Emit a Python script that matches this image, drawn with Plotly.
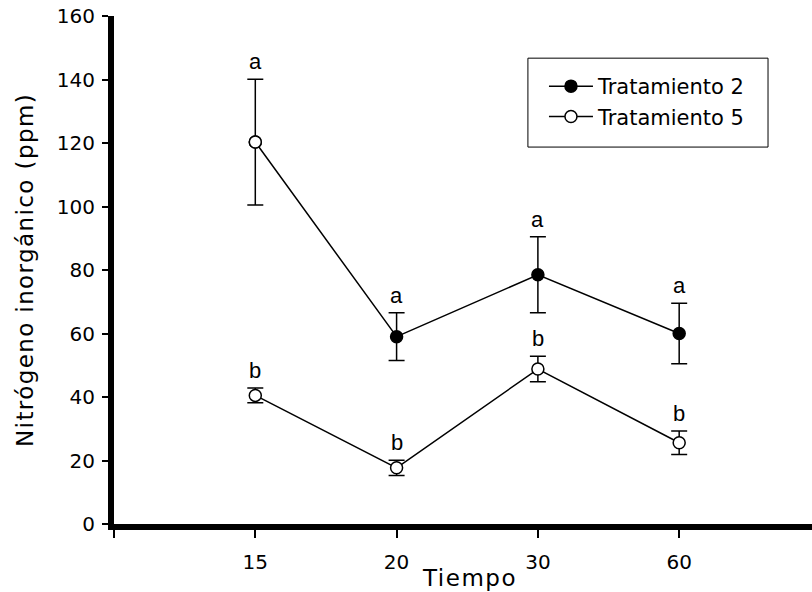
import plotly.graph_objects as go

# ---- data ----
tiempo = ["15", "20", "30", "60"]
trat2_media = [120.3, 59.0, 78.5, 60.0]
trat2_error = [19.8, 7.5, 12.0, 9.5]
trat5_media = [40.5, 17.7, 48.8, 25.6]
trat5_error = [2.3, 2.4, 4.0, 3.7]
letras_t2 = ["a", "a", "a", "a"]
letras_t5 = ["b", "b", "b", "b"]
y_ticks = [0, 20, 40, 60, 80, 100, 120, 140, 160]

xpos = list(range(1, len(tiempo) + 1))

fig = go.Figure()

fig.add_trace(go.Scatter(
    x=xpos, y=trat2_media, name="Tratamiento 2", mode="lines+markers",
    line=dict(color="black", width=1.5),
    marker=dict(size=12, color="black", line=dict(color="black", width=1.5)),
    error_y=dict(type="data", array=trat2_error, visible=True,
                 color="black", thickness=1.5, width=8),
))
# in the reference the first point of Tratamiento 2 is drawn hollow
fig.add_trace(go.Scatter(
    x=xpos[:1], y=trat2_media[:1], mode="markers", showlegend=False,
    marker=dict(size=12, color="white", line=dict(color="black", width=1.5)),
))
fig.add_trace(go.Scatter(
    x=xpos, y=trat5_media, name="Tratamiento 5", mode="lines+markers",
    line=dict(color="black", width=1.5),
    marker=dict(size=12, color="white", line=dict(color="black", width=1.5)),
    error_y=dict(type="data", array=trat5_error, visible=True,
                 color="black", thickness=1.5, width=8),
))

annotations = []
for xs, m, e, l in zip(xpos * 2, trat2_media + trat5_media,
                       trat2_error + trat5_error, letras_t2 + letras_t5):
    annotations.append(dict(
        x=xs, y=m + e, text=l, showarrow=False, xref="x", yref="y",
        yanchor="bottom", yshift=3,
        font=dict(family="Liberation Sans", size=22, color="black")))

annotations.append(dict(
    x=0.51, y=-0.106, xref="paper", yref="paper", showarrow=False,
    text='<span style="letter-spacing:1.5px">Tiempo</span>',
    xanchor="center", yanchor="middle",
    font=dict(family="DejaVu Sans", size=23, color="black")))
annotations.append(dict(
    x=-0.1275, y=0.5, xref="paper", yref="paper", showarrow=False,
    text='<span style="letter-spacing:1.4px">Nitrógeno inorgánico (ppm)</span>',
    textangle=-90, xanchor="center", yanchor="middle",
    font=dict(family="DejaVu Sans", size=23, color="black")))

fig.update_layout(
    width=812, height=592,
    margin=dict(l=114, r=0, t=16, b=68, autoexpand=False),
    paper_bgcolor="white", plot_bgcolor="white",
    showlegend=True,
    legend=dict(x=0.616, y=0.9016, xanchor="left", yanchor="top",
                borderwidth=0, bgcolor="rgba(0,0,0,0)",
                font=dict(family="DejaVu Sans", size=21, color="black"),
                itemwidth=44),
    shapes=[dict(type="rect", xref="paper", yref="paper",
                 x0=0.593, x1=0.937, y0=0.742, y1=0.917,
                 line=dict(color="black", width=1), fillcolor="white",
                 layer="below")],
    annotations=annotations,
    font=dict(family="DejaVu Sans", color="black"),
)

fig.update_xaxes(
    range=[0, 4.94], tickvals=[0] + xpos, ticktext=[""] + tiempo,
    showline=True, linewidth=6, linecolor="black", automargin=False,
    ticks="outside", ticklen=8, tickwidth=1.5, tickcolor="black",
    showgrid=False, zeroline=False, ticklabelstandoff=7,
    ticklabeloverflow="allow",
    tickfont=dict(family="DejaVu Sans", size=20, color="black"),
)
fig.update_yaxes(
    range=[0, 160], tickvals=y_ticks,
    showline=True, linewidth=6, linecolor="black", automargin=False,
    ticks="outside", ticklen=6, tickwidth=1.5, tickcolor="black",
    showgrid=False, zeroline=False, ticklabelstandoff=3,
    ticklabeloverflow="allow",
    tickfont=dict(family="DejaVu Sans", size=20, color="black"),
)

fig.write_html(
    "out.html",
    config={"displayModeBar": False},
    post_script="document.body.style.margin='0';document.body.style.overflow='hidden';",
)
